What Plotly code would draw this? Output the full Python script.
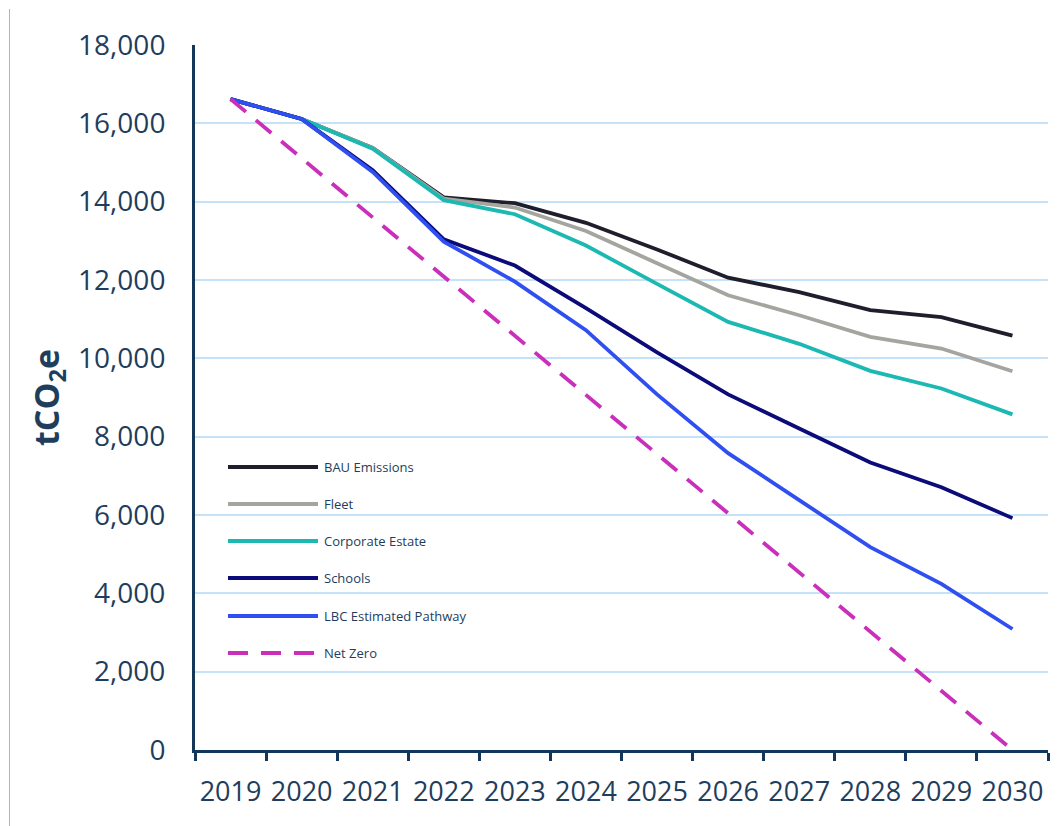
import plotly.graph_objects as go

years = ["2019", "2020", "2021", "2022", "2023", "2024", "2025", "2026", "2027", "2028", "2029", "2030"]
bau = [16620, 16110, 15370, 14110, 13960, 13460, 12780, 12060, 11690, 11230, 11050, 10580]
fleet = [16620, 16110, 15370, 14080, 13850, 13250, 12430, 11610, 11100, 10550, 10250, 9670]
corporate = [16620, 16110, 15350, 14040, 13680, 12880, 11900, 10930, 10370, 9680, 9230, 8570]
schools = [16620, 16110, 14800, 13040, 12370, 11280, 10150, 9080, 8210, 7340, 6710, 5920]
lbc = [16620, 16110, 14760, 12980, 11960, 10720, 9080, 7580, 6380, 5180, 4240, 3090]
net_zero = [16620, 15109, 13598, 12087, 10576, 9065, 7555, 6044, 4533, 3022, 1511, 0]

series = [
    ("BAU Emissions", bau, "#1e1e2c", "solid"),
    ("Fleet", fleet, "#a5a5a0", "solid"),
    ("Corporate Estate", corporate, "#1cb8b2", "solid"),
    ("Schools", schools, "#0b0b7a", "solid"),
    ("LBC Estimated Pathway", lbc, "#2f4ff0", "solid"),
    ("Net Zero", net_zero, "#c92fba", "20px,13px"),
]

fig = go.Figure()
for name, vals, color, dash in series:
    fig.add_trace(go.Scatter(x=years, y=vals, mode="lines", name=name,
                             line=dict(color=color, width=3.8, dash=dash),
                             showlegend=False))

axis_color = "#13375a"
text_color = "#1f3d5c"

# page body adds an 8px offset, so the figure is sized/margined to compensate
fig.update_layout(
    width=1053, height=818,
    margin=dict(l=187, r=13, t=37, b=76),
    paper_bgcolor="white", plot_bgcolor="white",
    font=dict(family="Open Sans", color=text_color),
    xaxis=dict(type="category", range=[-0.5, 11.5], tickson="boundaries",
               ticks="outside", ticklen=8, tickwidth=2.5, tickcolor=axis_color,
               showline=True, linecolor=axis_color, linewidth=3,
               showgrid=False, tickfont=dict(size=27, color=text_color),
               tickangle=0, automargin=False, ticklabelstandoff=16),
    yaxis=dict(range=[0, 18000], dtick=2000, tickformat=",d",
               showline=True, linecolor=axis_color, linewidth=3,
               gridcolor="#c5e2f8", gridwidth=2, zeroline=False, automargin=False,
               tickfont=dict(size=28, color=text_color), ticklabelstandoff=21),
)

fig.add_annotation(text="<b>tCO<sub>2</sub>e</b>", xref="paper", yref="paper",
                   x=(40 - 187) / 853, y=(742 - 390) / 705, textangle=-90,
                   showarrow=False, font=dict(size=34, color=text_color),
                   xanchor="center", yanchor="middle")

# thin grey frame line at the left edge
fig.add_shape(type="line", xref="paper", yref="paper",
              x0=(1.5 - 187) / 853, x1=(1.5 - 187) / 853,
              y0=(742 - 1) / 705, y1=(742 - 820) / 705,
              line=dict(color="#b4b4b4", width=1))

# legend drawn inside the plot area
leg_y = [467, 504, 541, 578, 616, 653]
for (name, vals, color, dash), py in zip(series, leg_y):
    yp = (750 - py) / 705
    fig.add_shape(type="line", xref="paper", yref="paper",
                  x0=(228 - 195) / 853, x1=(318 - 195) / 853, y0=yp, y1=yp,
                  line=dict(color=color, width=3.8, dash=dash))
    fig.add_annotation(text=name, xref="paper", yref="paper",
                       x=(322 - 195) / 853, y=yp, xanchor="left", yanchor="middle",
                       showarrow=False, font=dict(size=13, color=text_color))

fig.write_html("out.html")
